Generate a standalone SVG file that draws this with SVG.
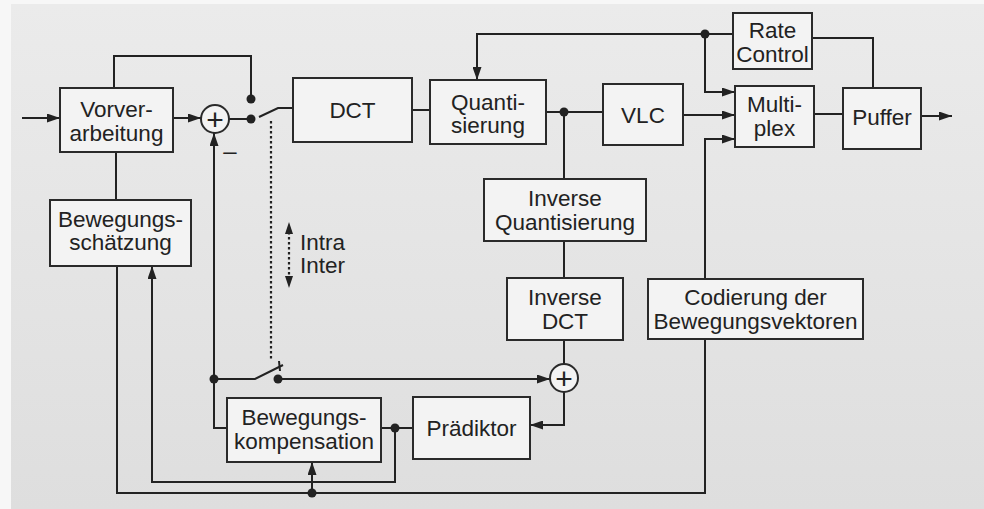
<svg xmlns="http://www.w3.org/2000/svg" width="984" height="509" viewBox="0 0 984 509">
<defs>
<linearGradient id="bg" x1="0" y1="0" x2="0" y2="1">
<stop offset="0" stop-color="#ebebeb"/>
<stop offset="1" stop-color="#dedede"/>
</linearGradient>
<marker id="ah" viewBox="0 0 13 9" refX="13" refY="4.5" markerWidth="13" markerHeight="9" orient="auto" markerUnits="userSpaceOnUse">
<path d="M0,0 L13,4.5 L0,9 z" fill="#222"/>
</marker>
</defs>
<style>
.box{fill:#f3f3f3;stroke:#2a2a2a;stroke-width:2}
.sum{fill:#f3f3f3;stroke:#2a2a2a;stroke-width:2}
.t{font-family:"Liberation Sans",Arial,sans-serif;font-size:22.5px;fill:#222;text-anchor:middle}
.tl{font-family:"Liberation Sans",Arial,sans-serif;font-size:22.5px;fill:#222}
.pl{font-family:"Liberation Sans",Arial,sans-serif;font-size:30px;fill:#222;text-anchor:middle}
.c{fill:none;stroke:#222;stroke-width:2}
.a{marker-end:url(#ah)}
.dot{fill:#222}
.dash{fill:none;stroke:#222;stroke-width:2.2;stroke-dasharray:2.5 2.5}
</style>
<rect x="0" y="0" width="984" height="509" fill="#f7f7f7"/>
<rect x="11" y="4" width="973" height="505" fill="url(#bg)"/>

<g id="connectors">
<path class="c a" d="M22,118 H60"/>
<path class="c a" d="M173,118 H201"/>
<path class="c" d="M229,119 H251"/>
<path class="c" d="M114,88 V56 H251 V99"/>
<path class="c" d="M259,117 L278,108 H293"/>
<path class="c" d="M412,110 H430"/>
<path class="c" d="M546,112 H603"/>
<path class="c" d="M564,112 V179"/>
<path class="c" d="M564,241 V278"/>
<path class="c" d="M564,340 V364"/>
<path class="c a" d="M564,392 V425 H530"/>
<path class="c a" d="M683,115 H735"/>
<path class="c" d="M814,114 H843"/>
<path class="c a" d="M921,116 H952"/>
<path class="c" d="M812,38 H873 V88"/>
<path class="c a" d="M733,34 H477 V80"/>
<path class="c a" d="M705,34 V92 H735"/>
<path class="c a" d="M705,279 V139 H735"/>
<path class="c" d="M116,152 V200"/>
<path class="c" d="M705,339 V493 H117 V266"/>
<path class="c a" d="M312,493 V462"/>
<path class="c" d="M381,428 H413"/>
<path class="c a" d="M395,428 V482 H152 V266"/>
<path class="c a" d="M227,428 H214 V133"/>
<path class="c" d="M214,379 H255 L283,365"/>
<path class="c" d="M279,361 L280,371"/>
<path class="c a" d="M278,379 H550"/>
<path class="dash" d="M271,121 V360"/>
<path class="dash" d="M289,232 V278"/>
<path d="M285,234 L289,222 L293,234 z" fill="#222"/>
<path d="M285,276 L289,288 L293,276 z" fill="#222"/>
<circle class="dot" cx="251" cy="99" r="4.5"/>
<circle class="dot" cx="251" cy="119" r="4.5"/>
<circle class="dot" cx="564" cy="112" r="4.5"/>
<circle class="dot" cx="705" cy="34" r="4.5"/>
<circle class="dot" cx="395" cy="428" r="4.5"/>
<circle class="dot" cx="312" cy="493" r="4.5"/>
<circle class="dot" cx="214" cy="379" r="4.5"/>
<circle class="dot" cx="278" cy="379" r="4.5"/>
<text class="t" x="230" y="159" style="font-size:24px">–</text>
<text class="tl" x="300" y="250">Intra</text>
<text class="tl" x="300" y="273">Inter</text>
</g>

<g id="vorverarbeitung">
<rect class="box" x="60" y="88" width="113" height="64"/>
<text class="t" x="116.5" y="117">Vorver-</text>
<text class="t" x="116.5" y="141">arbeitung</text>
</g>
<g id="sum1">
<circle class="sum" cx="215" cy="119" r="14"/>
<text class="pl" x="215" y="129.5">+</text>
</g>
<g id="dct">
<rect class="box" x="293" y="78" width="119" height="64"/>
<text class="t" x="352.5" y="118">DCT</text>
</g>
<g id="quantisierung">
<rect class="box" x="430" y="80" width="116" height="64"/>
<text class="t" x="488" y="110">Quanti-</text>
<text class="t" x="488" y="133">sierung</text>
</g>
<g id="vlc">
<rect class="box" x="603" y="84" width="80" height="61"/>
<text class="t" x="643" y="122.5">VLC</text>
</g>
<g id="ratecontrol">
<rect class="box" x="733" y="13" width="79" height="56"/>
<text class="t" x="772.5" y="38">Rate</text>
<text class="t" x="772.5" y="62">Control</text>
</g>
<g id="multiplex">
<rect class="box" x="735" y="86" width="79" height="61"/>
<text class="t" x="774.5" y="112">Multi-</text>
<text class="t" x="774.5" y="136">plex</text>
</g>
<g id="puffer">
<rect class="box" x="843" y="88" width="78" height="61"/>
<text class="t" x="882" y="125">Puffer</text>
</g>
<g id="invquant">
<rect class="box" x="484" y="179" width="162" height="62"/>
<text class="t" x="565" y="206">Inverse</text>
<text class="t" x="565" y="230">Quantisierung</text>
</g>
<g id="invdct">
<rect class="box" x="507" y="278" width="116" height="62"/>
<text class="t" x="565" y="305">Inverse</text>
<text class="t" x="565" y="329">DCT</text>
</g>
<g id="codierung">
<rect class="box" x="648" y="279" width="215" height="60"/>
<text class="t" x="755.5" y="305">Codierung der</text>
<text class="t" x="755.5" y="329">Bewegungsvektoren</text>
</g>
<g id="sum2">
<circle class="sum" cx="564" cy="378" r="14"/>
<text class="pl" x="564" y="388.5">+</text>
</g>
<g id="praediktor">
<rect class="box" x="413" y="397" width="117" height="62"/>
<text class="t" x="471.5" y="436">Prädiktor</text>
</g>
<g id="bewegungskompensation">
<rect class="box" x="227" y="398" width="154" height="64"/>
<text class="t" x="304" y="425">Bewegungs-</text>
<text class="t" x="304" y="449">kompensation</text>
</g>
<g id="bewegungsschaetzung">
<rect class="box" x="50" y="200" width="141" height="66"/>
<text class="t" x="120.5" y="227">Bewegungs-</text>
<text class="t" x="120.5" y="250">schätzung</text>
</g>
</svg>
